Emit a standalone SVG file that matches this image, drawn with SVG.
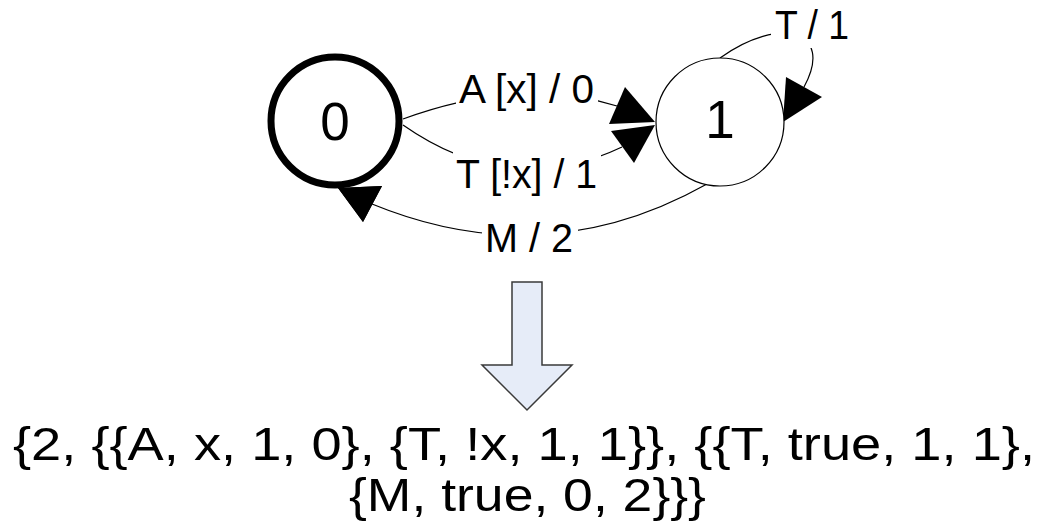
<svg xmlns="http://www.w3.org/2000/svg" width="1049" height="532" viewBox="0 0 1049 532">
  <style>
    .txt { font-family: "Liberation Sans", Arial, sans-serif; fill: #000; }
    .lbl { font-size: 40px; }
    .node-lbl { font-size: 53px; text-anchor: middle; }
    .edge { fill: none; stroke: #000; stroke-width: 1.2; }
    .head { fill: #000; stroke: none; }
    .bg { fill: #fff; stroke: none; }
    .big { font-size: 46px; }
  </style>
  <rect x="0" y="0" width="1049" height="532" fill="#fff"/>

  <g id="connectors">
    <path class="edge" d="M403,119 Q520,76 617,106"/>
    <path class="edge" d="M403,125 Q510,200 622,147"/>
    <path class="edge" d="M707,184 Q545,275 372,204"/>
    <path class="edge" d="M720,58 C780,15 835,30 804,87"/>

    <polygon class="head" points="655,122 625,87 609,124"/>
    <polygon class="head" points="655,125 611,131 634,163"/>
    <polygon class="head" points="338,188 382,186 363,222"/>
    <polygon class="head" points="783,122 786,77 822,97"/>

    <rect class="bg" x="456" y="70" width="142" height="40"/>
    <text class="txt lbl" x="459" y="103" textLength="135" lengthAdjust="spacingAndGlyphs">A [x] / 0</text>
    <rect class="bg" x="453" y="152" width="148" height="42"/>
    <text class="txt lbl" x="456" y="188" textLength="141" lengthAdjust="spacingAndGlyphs">T [!x] / 1</text>
    <rect class="bg" x="482" y="218" width="96" height="40"/>
    <text class="txt lbl" x="485" y="252" textLength="88" lengthAdjust="spacingAndGlyphs">M / 2</text>
    <rect class="bg" x="771" y="4" width="80" height="44"/>
    <text class="txt lbl" x="775" y="39" textLength="74" lengthAdjust="spacingAndGlyphs">T / 1</text>
  </g>

  <g id="node-0">
    <circle cx="335" cy="121" r="64" fill="#fff" stroke="#000" stroke-width="7"/>
    <text class="txt node-lbl" x="335" y="140">0</text>
  </g>

  <g id="node-1">
    <circle cx="720" cy="122" r="64" fill="#fff" stroke="#000" stroke-width="1.2"/>
    <text class="txt node-lbl" x="720" y="138">1</text>
  </g>

  <!-- redraw arrowhead on top of node 0 ring -->
  <polygon class="head" points="338,188 382,186 363,222"/>

  <g id="transform-arrow">
    <polygon points="512,282 542,282 542,365 572,365 527,410 482,365 512,365" fill="#e6ecf8" stroke="#3a3a3a" stroke-width="1.5" stroke-linejoin="miter"/>
  </g>

  <g id="result-text">
    <text class="txt big" x="13" y="460" textLength="1022" lengthAdjust="spacingAndGlyphs">{2, {{A, x, 1, 0}, {T, !x, 1, 1}}, {{T, true, 1, 1},</text>
    <text class="txt big" x="349" y="511" textLength="357" lengthAdjust="spacingAndGlyphs">{M, true, 0, 2}}}</text>
  </g>
</svg>
